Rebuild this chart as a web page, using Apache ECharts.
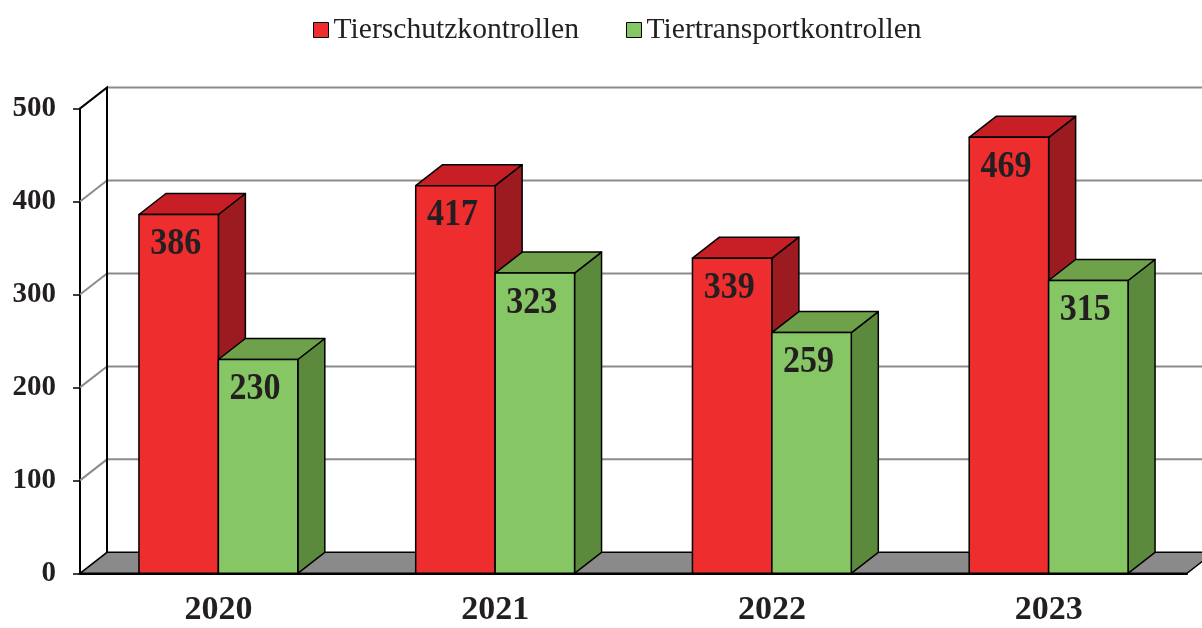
<!DOCTYPE html>
<html>
<head>
<meta charset="utf-8">
<title>Kontrollen</title>
<script src="https://cdn.jsdelivr.net/npm/echarts@6/dist/echarts.min.js"></script>
<style>
  html, body { margin: 0; padding: 0; background: #fff; }
  #chart { width: 1202px; height: 628px; }
</style>
</head>
<body>
<div id="chart"></div>
<script>
const years = ['2020', '2021', '2022', '2023']
const tierschutz = [386, 417, 339, 469]
const tiertransport = [230, 323, 259, 315]
const yTicks = [0, 100, 200, 300, 400, 500]

// Tiefe der 3D-Optik (px)
const DX = 27
const DY = -21
const SERIF = '"Liberation Serif", "DejaVu Serif", serif'

const chart = echarts.init(document.getElementById('chart'))

// Rückwand, linke Wand und Boden
const renderWalls = (params, api) => {
  const rect = params.coordSys
  const x0 = rect.x
  const x1 = rect.x + rect.width
  const children = []
  yTicks.forEach((v) => {
    const y = api.coord([0, v])[1]
    if (v === 0) {
      children.push({
        type: 'polygon',
        shape: { points: [[x0, y], [x0 + DX, y + DY], [x1 + DX, y + DY], [x1, y]] },
        style: { fill: '#8a8a8a', stroke: '#000', lineWidth: 1.5 },
      })
    } else {
      children.push({
        type: 'polyline',
        shape: { points: [[x0, y], [x0 + DX, y + DY], [x1 + DX, y + DY]] },
        style: { fill: null, stroke: '#8c8c8c', lineWidth: 2 },
      })
    }
  })
  const yTop = api.coord([0, yTicks[yTicks.length - 1]])[1]
  const yBot = api.coord([0, 0])[1]
  children.push({
    type: 'polyline',
    shape: { points: [[x0, yTop], [x0 + DX, yTop + DY], [x0 + DX, yBot + DY]] },
    style: { fill: null, stroke: '#000', lineWidth: 2 },
  })
  return { type: 'group', children }
}

// 3D-Säule: Vorderseite, Deckel, rechte Seite, Wert
const makeBarRenderer = (shift, colors) => (params, api) => {
  const idx = api.value(0)
  const val = api.value(1)
  const top = api.coord([idx, val])
  const base = api.coord([idx, 0])
  const band = api.size([1, 0])[0]
  const w = band * 0.287
  const xl = top[0] + shift * w
  const xr = xl + w
  const yt = top[1]
  const yb = base[1]
  const edge = { stroke: '#000', lineWidth: 1.5, lineJoin: 'round' }
  return {
    type: 'group',
    children: [
      {
        type: 'polygon',
        shape: { points: [[xr, yt], [xr + DX, yt + DY], [xr + DX, yb + DY], [xr, yb]] },
        style: Object.assign({ fill: colors[2] }, edge),
      },
      {
        type: 'polygon',
        shape: { points: [[xl, yt], [xl + DX, yt + DY], [xr + DX, yt + DY], [xr, yt]] },
        style: Object.assign({ fill: colors[1] }, edge),
      },
      {
        type: 'rect',
        shape: { x: xl, y: yt, width: w, height: yb - yt },
        style: Object.assign({ fill: colors[0] }, edge),
      },
      {
        // etwas schmalere, hohe Ziffern wie im Original
        type: 'text',
        x: (xl + xr) / 2 - 3,
        y: yt + 30,
        scaleX: 0.92,
        style: {
          text: String(val),
          x: 0,
          y: 0,
          fill: '#231f20',
          fontSize: 37,
          fontWeight: 'bold',
          fontFamily: SERIF,
          align: 'center',
          verticalAlign: 'middle',
        },
      },
    ],
  }
}

const redColors = ['#ee2d2f', '#c81f27', '#9c1b20']
const greenColors = ['#86c664', '#6ea14a', '#5b8a3d']

const option = {
  animation: false,
  legend: {
    top: 10,
    left: 308,
    icon: 'rect',
    itemWidth: 15,
    itemHeight: 15,
    itemGap: 47,
    textStyle: { fontFamily: SERIF, fontSize: 29.6, color: '#231f20' },
    data: [
      { name: 'Tierschutzkontrollen', itemStyle: { color: redColors[0], borderColor: '#000', borderWidth: 1 } },
      { name: 'Tiertransportkontrollen', itemStyle: { color: greenColors[0], borderColor: '#000', borderWidth: 1 } },
    ],
  },
  grid: { left: 80, right: 15, top: 108.5, bottom: 54.7 },
  xAxis: {
    type: 'category',
    data: years,
    axisLine: { lineStyle: { color: '#000', width: 2 } },
    axisTick: { length: 8, lineStyle: { color: '#000', width: 1.5 } },
    axisLabel: { fontFamily: SERIF, fontWeight: 'bold', fontSize: 34, color: '#231f20', margin: 20 },
    splitLine: { show: false },
  },
  yAxis: {
    type: 'value',
    min: 0,
    max: 500,
    interval: 100,
    axisLine: { show: true, lineStyle: { color: '#000', width: 2 } },
    axisTick: { show: true, length: 7, lineStyle: { color: '#000', width: 1.5 } },
    axisLabel: {
      fontFamily: SERIF,
      fontWeight: 'bold',
      fontSize: 29,
      color: '#231f20',
      margin: 24,
      padding: [4, 0, 0, 0],
    },
    splitLine: { show: false },
  },
  series: [
    {
      name: 'wand',
      type: 'custom',
      silent: true,
      renderItem: renderWalls,
      data: [[0, 0]],
      z: 1,
    },
    {
      name: 'Tierschutzkontrollen',
      type: 'custom',
      silent: true,
      itemStyle: { color: redColors[0] },
      renderItem: makeBarRenderer(-1, redColors),
      data: tierschutz.map((v, i) => [i, v]),
      z: 2,
    },
    {
      name: 'Tiertransportkontrollen',
      type: 'custom',
      silent: true,
      itemStyle: { color: greenColors[0] },
      renderItem: makeBarRenderer(0, greenColors),
      data: tiertransport.map((v, i) => [i, v]),
      z: 3,
    },
  ],
}

option && chart.setOption(option)
</script>
</body>
</html>
